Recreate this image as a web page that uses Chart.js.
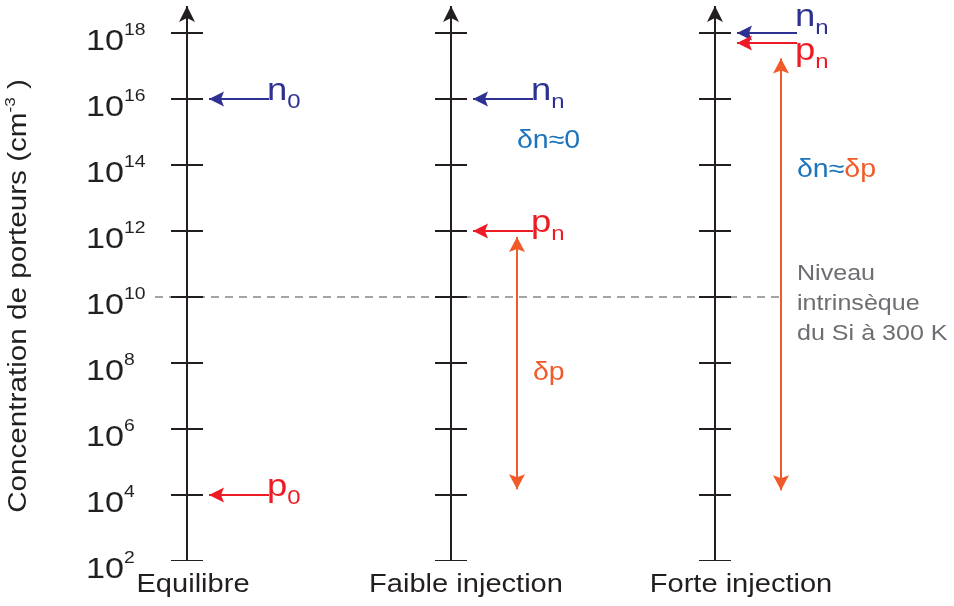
<!DOCTYPE html>
<html>
<head>
<meta charset="utf-8">
<script src="https://cdn.jsdelivr.net/npm/chart.js@4/dist/chart.umd.min.js"></script>
<style>
  html, body { margin: 0; padding: 0; background: #ffffff; }
  #wrap { width: 954px; height: 606px; position: relative; }
</style>
</head>
<body>
<div id="wrap"><canvas id="chart"></canvas></div>
<script>
// Carrier concentrations (cm^-3) for the three regimes
const categories = ['Equilibre', 'Faible injection', 'Forte injection'];
const tickExponents = [2, 4, 6, 8, 10, 12, 14, 16, 18];
const electronConc = [1e16, 1e16, 1e18];
const electronSub = ['0', 'n', 'n'];
const holeConc = [1e4, 1e12, 5e17];
const holeSub = ['0', 'n', 'n'];
const intrinsicConc = 1e10;
// Excess carrier span (bottom and top of the double arrow)
const excessLow = [null, 1.5e4, 1.4e4];
const excessHigh = [null, 6.6e11, 1.7e17];
const axisTopConc = Math.pow(10, 18.82);

// Colours
const INK = '#231f20';
const NAVY = '#2e3192';
const RED = '#ed1c24';
const ORANGE = '#f15a29';
const BLUE = '#1c75bc';
const GREY = '#6d6e71';
const DASH = '#858689';
const FONT = '"Liberation Sans", Arial, Helvetica, sans-serif';
const SX = 1.14; // horizontal widening of the lettering

// Horizontal layout in axis units (one unit between regime axes)
const UNIT_PX = 264;
const X_MIN = -187 / UNIT_PX;
const X_MAX = X_MIN + 954 / UNIT_PX;
const TICK_HALF = 16 / UNIT_PX;
const ARROW_TIP = 22 / UNIT_PX;
const ARROW_TAIL = 82 / UNIT_PX;
const EXCESS_X = 66 / UNIT_PX;
const DASH_START = -32 / UNIT_PX;

function seg(x1, y1, x2, y2) { return [{ x: x1, y: y1 }, { x: x2, y: y2 }]; }

const datasets = [];
categories.forEach((c, i) => {
  // vertical concentration axis
  datasets.push({ data: seg(i, 1e2, i, axisTopConc), borderColor: INK, borderWidth: 2, head: 'end', headKind: 'axis', order: 2 });
  // decade ticks
  const tk = [];
  tickExponents.forEach(e => {
    const v = Math.pow(10, e);
    tk.push({ x: i - TICK_HALF, y: v }, { x: i + TICK_HALF, y: v }, { x: i, y: null });
  });
  datasets.push({ data: tk, borderColor: INK, borderWidth: 2, order: 2 });
  // electron arrow
  datasets.push({ data: seg(i + ARROW_TIP, electronConc[i], i + ARROW_TAIL, electronConc[i]), borderColor: NAVY, borderWidth: 2, head: 'start', headKind: 'carrier', order: 1 });
  // hole arrow
  datasets.push({ data: seg(i + ARROW_TIP, holeConc[i], i + ARROW_TAIL, holeConc[i]), borderColor: RED, borderWidth: 2, head: 'start', headKind: 'carrier', order: 1 });
  // excess carriers double arrow
  if (excessLow[i] !== null) {
    datasets.push({ data: seg(i + EXCESS_X, excessLow[i], i + EXCESS_X, excessHigh[i]), borderColor: ORANGE, borderWidth: 2, head: 'both', headKind: 'excess', order: 1 });
  }
});
// intrinsic level of silicon at 300 K
datasets.push({ data: seg(DASH_START, intrinsicConc, 2 + EXCESS_X, intrinsicConc), borderColor: DASH, borderWidth: 1.5, borderDash: [8, 6], order: 5 });

datasets.forEach(d => {
  d.fill = false; d.pointRadius = 0; d.spanGaps = false; d.borderCapStyle = 'butt'; d.tension = 0;
});

const HEADS = {
  axis: { len: 16, half: 8, notch: 4 },
  carrier: { len: 15, half: 7.5, notch: 3 },
  excess: { len: 15, half: 8, notch: 3 }
};

function drawHead(ctx, tip, from, kind, color) {
  const h = HEADS[kind];
  let dx = tip.x - from.x, dy = tip.y - from.y;
  const L = Math.hypot(dx, dy) || 1;
  dx /= L; dy /= L;
  const px = -dy, py = dx;
  const bx = tip.x - dx * h.len, by = tip.y - dy * h.len;
  const nx = tip.x - dx * (h.len - h.notch), ny = tip.y - dy * (h.len - h.notch);
  ctx.beginPath();
  ctx.moveTo(tip.x, tip.y);
  ctx.lineTo(bx + px * h.half, by + py * h.half);
  ctx.lineTo(nx, ny);
  ctx.lineTo(bx - px * h.half, by - py * h.half);
  ctx.closePath();
  ctx.fillStyle = color;
  ctx.fill();
}

function txt(ctx, s, x, y, size, color, align) {
  ctx.save();
  ctx.font = size + 'px ' + FONT;
  ctx.fillStyle = color;
  ctx.textBaseline = 'alphabetic';
  ctx.textAlign = 'left';
  ctx.translate(x, y);
  ctx.scale(SX, 1);
  const w = ctx.measureText(s).width;
  const dx = align === 'center' ? -w / 2 : (align === 'right' ? -w : 0);
  ctx.fillText(s, dx, 0);
  ctx.restore();
  return w * SX;
}

const diagramPlugin = {
  id: 'diagram',
  afterDatasetsDraw(chart) {
    const ctx = chart.ctx;
    chart.data.datasets.forEach((ds, idx) => {
      if (!ds.head) return;
      const pts = chart.getDatasetMeta(idx).data;
      const a = pts[0], b = pts[pts.length - 1];
      if (ds.head === 'start' || ds.head === 'both') drawHead(ctx, a, b, ds.headKind, ds.borderColor);
      if (ds.head === 'end' || ds.head === 'both') drawHead(ctx, b, a, ds.headKind, ds.borderColor);
    });
  },
  afterDraw(chart) {
    const ctx = chart.ctx;
    const xs = chart.scales.x, ys = chart.scales.y;
    const x0 = xs.getPixelForValue(0);

    // decade labels 10^n
    tickExponents.forEach(e => {
      const y = ys.getPixelForValue(Math.pow(10, e));
      const w = txt(ctx, '10', x0 - 101, y + 17, 30, INK);
      txt(ctx, String(e), x0 - 101 + w, y + 2, 17, INK);
    });

    // regime names
    const nameShift = [6, 15, 26];
    categories.forEach((c, i) => {
      txt(ctx, c, xs.getPixelForValue(i) + nameShift[i], 592, 25.5, INK, 'center');
    });

    // carrier labels
    categories.forEach((c, i) => {
      const tx = xs.getPixelForValue(i + ARROW_TAIL) - 2;
      const ye = ys.getPixelForValue(electronConc[i]);
      const yh = ys.getPixelForValue(holeConc[i]);
      const eBase = i === 2 ? ye - 7 : ye + 1;
      const hBase = i === 2 ? yh + 17 : yh + 1;
      let w = txt(ctx, 'n', tx, eBase, 32, NAVY);
      txt(ctx, electronSub[i], tx + w, eBase + 8, 21, NAVY);
      w = txt(ctx, 'p', tx, hBase, 32, RED);
      txt(ctx, holeSub[i], tx + w, hBase + 8, 21, RED);
    });

    // excess carrier annotations
    const x1 = xs.getPixelForValue(1), x2 = xs.getPixelForValue(2);
    txt(ctx, 'δn≈0', x1 + 66, 148, 25, BLUE);
    txt(ctx, 'δp', x1 + 82, 380, 25, ORANGE);
    const w = txt(ctx, 'δn≈', x2 + 82, 177, 25, BLUE);
    txt(ctx, 'δp', x2 + 82 + w, 177, 25, ORANGE);

    // intrinsic level note
    const gx = x2 + 82;
    txt(ctx, 'Niveau', gx, 280, 22, GREY);
    txt(ctx, 'intrinsèque', gx, 310, 22, GREY);
    txt(ctx, 'du Si à 300 K', gx, 340, 22, GREY);

    // vertical axis title
    ctx.save();
    ctx.translate(26, 296);
    ctx.rotate(-Math.PI / 2);
    ctx.font = '26px ' + FONT;
    const wMain = ctx.measureText('Concentration de porteurs (cm').width * SX;
    ctx.font = '15px ' + FONT;
    const wSup = ctx.measureText('-3').width * SX;
    ctx.font = '26px ' + FONT;
    const wEnd = ctx.measureText(' )').width * SX;
    const total = wMain + wSup + wEnd;
    let cx = -total / 2;
    cx += txt(ctx, 'Concentration de porteurs (cm', cx, 0, 26, INK);
    cx += txt(ctx, '-3', cx, -11, 15, INK);
    txt(ctx, ' )', cx, 0, 26, INK);
    ctx.restore();
  }
};

new Chart(document.getElementById('chart'), {
  type: 'line',
  data: { datasets },
  options: {
    responsive: true,
    maintainAspectRatio: false,
    animation: false,
    events: [],
    layout: { padding: { left: 0, right: 0, top: 0, bottom: 45 } },
    plugins: { legend: { display: false }, tooltip: { enabled: false }, title: { display: false } },
    scales: {
      x: { type: 'linear', min: X_MIN, max: X_MAX, display: false },
      y: { type: 'logarithmic', min: 1e2, max: 1e19, bounds: 'data', display: false }
    }
  },
  plugins: [diagramPlugin]
});
</script>
</body>
</html>
